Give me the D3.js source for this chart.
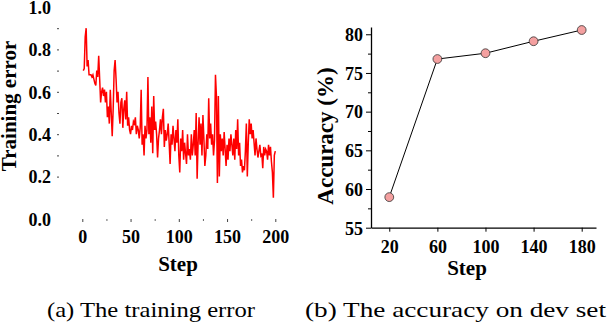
<!DOCTYPE html>
<html><head><meta charset="utf-8">
<script src="https://cdn.jsdelivr.net/npm/d3@7"></script>
<style>
body{margin:0;background:#fff}
svg{display:block}
text{font-family:"Liberation Serif","Times New Roman",serif;fill:#000}
</style>
</head><body>
<svg id="c" width="610" height="322"></svg>
<script>
// ---------- data ----------
const errSteps = d3.range(1, 201);
const errValues = [
 0.70,0.71,0.86,0.90,0.72,0.75,0.68,0.68,0.68,0.67,
 0.68,0.66,0.64,0.63,0.70,0.67,0.77,0.66,0.55,0.60,
 0.62,0.58,0.61,0.55,0.60,0.48,0.53,0.45,0.61,0.50,
 0.39,0.52,0.70,0.75,0.66,0.55,0.60,0.50,0.45,0.55,
 0.57,0.43,0.52,0.56,0.47,0.60,0.44,0.48,0.42,0.40,
 0.44,0.42,0.46,0.45,0.48,0.40,0.44,0.42,0.38,0.43,
 0.61,0.35,0.40,0.30,0.44,0.38,0.42,0.67,0.40,0.48,
 0.36,0.53,0.31,0.58,0.42,0.46,0.40,0.29,0.38,0.42,
 0.47,0.40,0.48,0.52,0.34,0.42,0.37,0.40,0.45,0.36,
 0.26,0.40,0.35,0.44,0.38,0.32,0.42,0.36,0.47,0.30,
 0.22,0.38,0.32,0.42,0.28,0.36,0.31,0.26,0.40,0.30,
 0.33,0.28,0.40,0.30,0.35,0.42,0.30,0.50,0.19,0.36,
 0.48,0.35,0.45,0.30,0.49,0.38,0.25,0.30,0.40,0.33,
 0.57,0.38,0.45,0.35,0.40,0.30,0.37,0.68,0.58,0.17,
 0.58,0.20,0.40,0.32,0.38,0.30,0.41,0.33,0.25,0.35,
 0.28,0.38,0.32,0.40,0.35,0.30,0.38,0.28,0.42,0.33,
 0.47,0.30,0.36,0.25,0.28,0.22,0.25,0.23,0.32,0.45,
 0.20,0.36,0.47,0.40,0.45,0.38,0.42,0.36,0.30,0.38,
 0.33,0.29,0.32,0.35,0.30,0.31,0.24,0.34,0.30,0.33,
 0.32,0.28,0.35,0.30,0.34,0.27,0.22,0.10,0.30,0.32
];
const errXTicks = [0, 50, 100, 150, 200];
const errXMinor = [25, 75, 125, 175];
const errYTicks = [0.0, 0.2, 0.4, 0.6, 0.8, 1.0];
const errYMarks = [0.2, 0.3, 0.4, 0.5, 0.6, 0.7, 0.8, 0.9];

const accSteps = [20, 60, 100, 140, 180];
const accValues = [58.95, 76.8, 77.55, 79.1, 80.55];
const accXTicks = [20, 60, 100, 140, 180];
const accYTicks = [55, 60, 65, 70, 75, 80];
const accYMinor = [57.5, 62.5, 67.5, 72.5, 77.5];

const captions = ["(a) The training error", "(b) The accuracy on dev set"];

// ---------- drawing ----------
const svg = d3.select("#c");

function styleLabels(g, size) {
  g.selectAll("text").style("font-size", size + "px").style("font-weight", "bold");
}

// ===== Left chart =====
const xL = d3.scaleLinear([0, 200], [82.3, 275.3]);
const yL = d3.scaleLinear([0, 1], [219, 7]);

const gyl = svg.append("g").attr("transform", "translate(51,0)")
  .call(d3.axisLeft(yL).tickValues(errYTicks).tickSize(0).tickPadding(0).tickFormat(d3.format(".1f")));
gyl.select(".domain").remove();
gyl.selectAll("text").attr("x", 0).attr("dy", "0.35em");
styleLabels(gyl, 18);

const gym = svg.append("g").attr("transform", "translate(59,0)")
  .call(d3.axisLeft(yL).tickValues(errYMarks).tickSize(2).tickFormat(""));
gym.select(".domain").remove();
gym.selectAll("line").attr("stroke", "#444");

const gxm = svg.append("g").attr("transform", "translate(0,219)")
  .call(d3.axisBottom(xL).tickValues(errXTicks).tickSize(3).tickFormat(""));
gxm.select(".domain").remove();
gxm.selectAll("line").attr("stroke", "#444");
const gxm2 = svg.append("g").attr("transform", "translate(0,219)")
  .call(d3.axisBottom(xL).tickValues(errXMinor).tickSize(2).tickFormat(""));
gxm2.select(".domain").remove();
gxm2.selectAll("line").attr("stroke", "#666");

const gxl = svg.append("g").attr("transform", "translate(0,243)")
  .call(d3.axisBottom(xL).tickValues(errXTicks).tickSize(0).tickPadding(0));
gxl.select(".domain").remove();
gxl.selectAll("text").attr("y", 0).attr("dy", 0);
styleLabels(gxl, 18);

svg.append("path")
  .datum(errSteps.map((s, i) => [s, errValues[i]]))
  .attr("fill", "none").attr("stroke", "#ff0000").attr("stroke-width", 1.5)
  .attr("d", d3.line().x(d => xL(d[0])).y(d => yL(d[1])));

svg.append("text").attr("x", 178).attr("y", 271).attr("text-anchor", "middle")
  .style("font-size", "21px").style("font-weight", "bold").text("Step");
svg.append("text").attr("transform", "translate(16,106) rotate(-90)").attr("text-anchor", "middle")
  .style("font-size", "21px").style("font-weight", "bold").text("Training error");

// ===== Right chart =====
const xR = d3.scaleLinear([4.8, 191.9], [371, 596]);
const yR = d3.scaleLinear([55, 80.94], [227.7, 27]);

const gyr = svg.append("g").attr("transform", "translate(371,0)")
  .call(d3.axisLeft(yR).tickValues(accYTicks).tickSize(5).tickSizeOuter(0).tickPadding(3));
styleLabels(gyr, 18);
gyr.selectAll("text").attr("dy", "0.35em");
const gyr2 = svg.append("g").attr("transform", "translate(371,0)")
  .call(d3.axisLeft(yR).tickValues(accYMinor).tickSize(3).tickSizeOuter(0).tickFormat(""));
gyr2.select(".domain").remove();

const gxr = svg.append("g").attr("transform", "translate(0,227.7)")
  .call(d3.axisBottom(xR).tickValues(accXTicks).tickSize(4).tickSizeOuter(0).tickPadding(0));
gxr.selectAll("text").attr("y", 25).attr("dy", 0);
styleLabels(gxr, 18);
svg.selectAll(".domain").attr("stroke-width", 1.3);

svg.append("path")
  .datum(accSteps.map((s, i) => [s, accValues[i]]))
  .attr("fill", "none").attr("stroke", "#000").attr("stroke-width", 1)
  .attr("d", d3.line().x(d => xR(d[0])).y(d => yR(d[1])));

svg.selectAll("circle.pt").data(accSteps).join("circle").attr("class", "pt")
  .attr("cx", d => xR(d)).attr("cy", (d, i) => yR(accValues[i])).attr("r", 4.4)
  .attr("fill", "#f4a0a0").attr("stroke", "#333").attr("stroke-width", 0.8);

svg.append("text").attr("x", 467).attr("y", 275).attr("text-anchor", "middle")
  .style("font-size", "21px").style("font-weight", "bold").text("Step");
svg.append("text").attr("transform", "translate(333,136) rotate(-90)").attr("text-anchor", "middle")
  .style("font-size", "23px").style("font-weight", "bold").text("Accuracy (%)");

// ===== captions =====
svg.append("text").attr("x", 47).attr("y", 317)
  .attr("textLength", 208).attr("lengthAdjust", "spacingAndGlyphs")
  .style("font-size", "22px").text(captions[0]);
svg.append("text").attr("x", 305).attr("y", 317)
  .attr("textLength", 301).attr("lengthAdjust", "spacingAndGlyphs")
  .style("font-size", "22px").text(captions[1]);
</script>
</body></html>
